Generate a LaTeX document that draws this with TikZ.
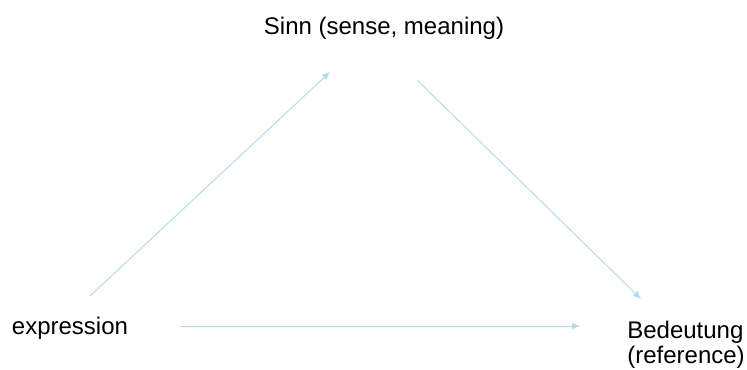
\documentclass[tikz,border=0pt]{standalone}
\usepackage{fontspec}
\setmainfont{Liberation Sans}
\usetikzlibrary{arrows.meta}
\definecolor{linkblue}{RGB}{176,222,230}

\begin{document}
\begin{tikzpicture}[x=0.5pt,y=-0.5pt,
  lbl/.style={inner sep=0pt,font=\fontsize{12}{12.5}\selectfont},
  link/.style={draw=linkblue,line width=0.5pt,-{Latex[length=4pt,width=3.5pt]}}]
\useasboundingbox (0,0) rectangle (747,369);
\node[lbl] (sinn) at (384,28) {Sinn (sense, meaning)};
\node[lbl] (expr) at (70,328) {expression};
\node[lbl,align=left] (bed) at (686,345) {Bedeutung\\(reference)};
\draw[link] ([shift={(20,-32)}]expr.center) -- ([shift={(-54,44)}]sinn.center);
\draw[link] ([shift={(33,52)}]sinn.center) -- ([shift={(-45,-46)}]bed.center);
\draw[link] ([shift={(110,-2)}]expr.center) -- ([shift={(-106,-19)}]bed.center);
\end{tikzpicture}
\end{document}
